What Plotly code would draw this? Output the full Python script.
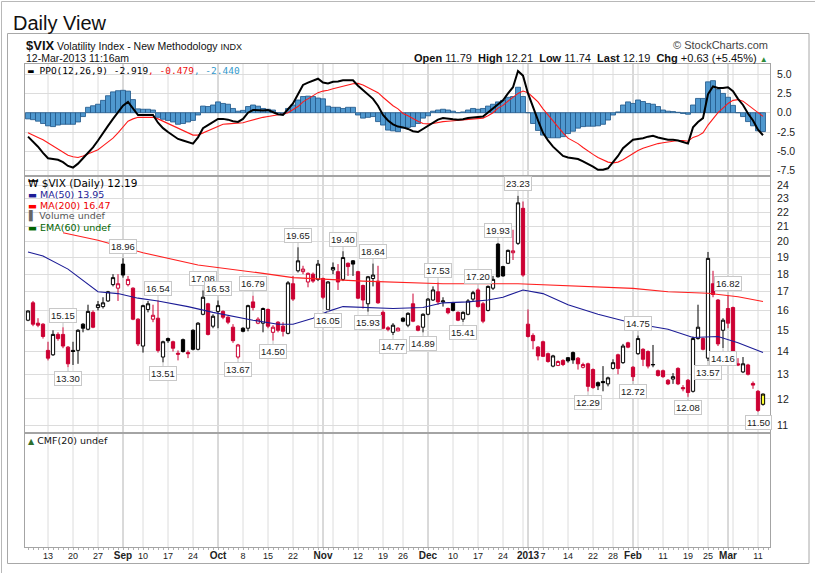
import math
import pandas as pd
import plotly.graph_objects as go

# ---------------- data ----------------
holidays = ["2012-09-03", "2012-10-29", "2012-10-30", "2012-11-22",
            "2012-12-25", "2013-01-01", "2013-01-21", "2013-02-18"]
dates = pd.bdate_range("2012-08-07", "2013-03-12", freq="C", holidays=holidays)

opens = [15.5, 16.4, 15.35, 15.3, 14.05, 13.85, 14.8, 14.8, 14.2, 14.05,
         14.05, 15.3, 15.05, 15.9, 16.15, 16.2, 16.5, 17.4, 17.2, 18.6,
         17.4, 17.2, 15.55, 14.25, 16.05, 15.55, 15.6, 13.75, 14.6, 14.45,
         13.92, 14.55, 13.95, 15.0, 14.1, 15.8, 16.35, 15.2, 15.95, 15.95,
         15.65, 15.15, 13.75, 15.1, 15.1, 16.45, 15.35, 15.35, 16.05, 14.9,
         15.4, 15.2, 14.85, 17.45, 18.2, 18.15, 17.55, 18.0, 17.7, 17.75,
         16.05, 18.25, 18.15, 17.7, 18.65, 18.8, 18.15, 17.35, 16.35, 17.75,
         17.6, 15.9, 15.12, 14.9, 14.97, 15.6, 15.25, 16.35, 15.2, 15.15,
         15.8, 16.55, 17.0, 16.45, 16.1, 16.4, 15.9, 15.55, 15.8, 16.6,
         17.1, 16.35, 16.0, 17.2, 19.85, 18.45, 18.65, 19.3, 19.9, 22.3,
         15.3, 14.75, 14.2, 14.45, 13.9, 13.35, 13.38, 13.6, 13.72, 13.95,
         13.7, 13.3, 13.45, 13.2, 12.65, 12.7, 12.6, 13.25, 13.85, 13.5,
         14.4, 13.3, 13.9, 14.1, 14.0, 13.4, 13.15, 13.15, 12.75, 12.8,
         13.25, 12.45, 12.75, 12.3, 14.6, 14.6, 13.7, 17.45, 16.55, 15.0,
         16.1, 16.15, 13.45, 13.1, 13.4, 12.62, 12.3, 11.79]
highs = [16.0, 16.5, 15.6, 15.35, 14.45, 15.0, 14.9, 15.15, 14.25, 14.45,
         15.05, 15.35, 16.3, 16.0, 16.5, 16.7, 17.05, 18.0, 18.0, 18.96,
         17.9, 17.25, 15.6, 16.3, 16.5, 16.3, 16.54, 14.5, 14.65, 14.5,
         14.05, 14.6, 14.05, 15.05, 15.4, 17.08, 16.4, 15.8, 16.53, 16.0,
         15.7, 15.3, 14.35, 15.15, 16.3, 16.79, 15.65, 16.15, 16.1, 15.25,
         15.45, 15.4, 17.6, 17.9, 19.65, 18.5, 18.1, 18.1, 18.85, 17.8,
         17.6, 18.7, 18.6, 19.4, 18.7, 18.85, 18.2, 17.4, 17.9, 18.64,
         18.5, 16.0, 15.2, 15.35, 15.15, 15.65, 15.9, 16.9, 15.25, 15.85,
         16.65, 17.3, 17.53, 16.7, 16.15, 16.45, 15.95, 15.95, 16.6, 17.05,
         17.2, 16.45, 17.35, 17.9, 19.93, 18.5, 19.5, 20.8, 23.23, 22.8,
         16.05, 14.85, 14.25, 14.5, 13.95, 13.85, 13.6, 13.65, 13.75, 14.0,
         13.75, 13.5, 13.5, 13.25, 12.7, 13.35, 12.9, 13.65, 13.9, 14.35,
         14.45, 13.35, 14.75, 14.15, 14.05, 14.3, 13.2, 13.2, 12.8, 13.05,
         13.3, 12.55, 12.8, 14.7, 16.3, 14.65, 19.35, 18.2, 16.6, 15.6,
         16.82, 16.2, 13.7, 13.75, 13.45, 12.7, 12.35, 12.21]
lows = [15.45, 15.2, 15.15, 14.6, 13.6, 13.8, 14.5, 14.15, 13.3, 13.4,
        13.45, 14.9, 15.0, 15.1, 16.0, 16.1, 16.45, 17.3, 16.5, 17.8,
        17.3, 15.5, 14.25, 13.95, 15.9, 15.4, 13.95, 13.51, 14.4, 14.0,
        13.6, 13.95, 13.7, 14.05, 14.05, 15.75, 14.75, 15.1, 15.1, 15.55,
        15.3, 14.4, 13.67, 14.9, 14.95, 16.0, 15.3, 14.9, 15.1, 14.5,
        14.9, 14.7, 14.8, 16.5, 18.1, 18.0, 17.25, 17.5, 17.6, 16.6,
        16.05, 18.0, 17.1, 17.6, 17.9, 17.9, 16.6, 16.1, 15.93, 17.3,
        16.35, 15.05, 14.95, 14.77, 14.95, 15.4, 15.15, 15.4, 14.95, 14.89,
        15.75, 16.5, 16.3, 16.2, 15.8, 15.95, 15.45, 15.41, 15.75, 16.5,
        16.15, 15.35, 15.95, 17.1, 17.8, 17.85, 18.6, 18.85, 19.8, 17.85,
        14.65, 14.1, 13.6, 13.75, 13.5, 13.3, 13.35, 13.35, 13.5, 13.45,
        13.2, 13.25, 12.29, 12.4, 12.35, 12.3, 12.5, 13.2, 13.0, 13.45,
        14.15, 12.72, 13.85, 13.35, 13.25, 13.3, 12.9, 12.85, 12.55, 12.6,
        12.55, 12.3, 12.08, 12.25, 14.55, 14.05, 13.57, 16.7, 14.25, 14.16,
        15.1, 13.9, 13.35, 13.05, 12.95, 12.4, 11.5, 11.74]
closes = [15.97, 15.3, 15.25, 14.7, 13.7, 14.8, 14.6, 14.25, 13.45, 14.0,
          15.0, 15.1, 15.95, 15.15, 16.3, 16.4, 17.0, 17.8, 17.45, 17.95,
          17.7, 15.55, 14.35, 16.25, 16.35, 15.75, 14.05, 14.45, 14.5, 14.15,
          13.88, 14.0, 13.9, 14.1, 15.35, 16.7, 14.8, 15.7, 16.25, 15.65,
          15.4, 14.5, 14.3, 14.95, 16.25, 16.15, 15.55, 16.1, 15.2, 15.15,
          15.0, 14.95, 17.5, 16.6, 18.8, 18.3, 18.05, 17.6, 18.6, 16.7,
          17.55, 18.4, 17.55, 19.0, 18.45, 18.6, 16.65, 16.55, 17.85, 17.95,
          16.4, 15.1, 15.05, 15.25, 15.1, 15.45, 15.85, 15.45, 15.0, 15.8,
          16.6, 17.1, 16.45, 16.5, 15.88, 16.0, 15.5, 15.9, 16.5, 16.95,
          16.2, 15.45, 17.3, 17.7, 17.85, 17.9, 19.45, 19.42, 22.7, 17.95,
          14.7, 14.5, 13.8, 13.78, 13.55, 13.8, 13.55, 13.42, 13.58, 13.62,
          13.45, 13.42, 12.5, 12.45, 12.52, 12.65, 12.85, 13.5, 13.25, 14.25,
          14.2, 12.9, 14.6, 13.65, 13.35, 13.42, 12.95, 12.9, 12.6, 12.9,
          12.6, 12.4, 12.25, 14.6, 15.15, 14.1, 18.95, 16.85, 14.35, 15.5,
          15.35, 13.95, 13.4, 13.45, 13.0, 12.55, 11.56, 12.19]

# moving averages (index, value)
ma50_idx = [0, 3, 8, 14, 18, 22, 26, 32, 37, 41, 45, 50, 53, 57, 60, 63, 68, 73,
            79, 83, 88, 92, 95, 99, 103, 108, 114, 118, 121, 128, 133, 138, 142, 147]
ma50_val = [19.35, 19.1, 18.3, 17.0, 16.9, 16.65, 16.5, 16.2, 15.9, 15.7, 15.5, 15.3,
            15.3, 15.6, 15.95, 16.2, 16.15, 16.1, 16.15, 16.4, 16.45, 16.55, 16.7,
            17.1, 16.9, 16.3, 15.8, 15.55, 15.35, 15.05, 14.65, 14.7, 14.4, 13.95]
ma200_idx = [7, 14, 23, 34, 47, 53, 67, 73, 83, 98, 108, 114, 121, 128, 136, 142, 147]
ma200_val = [20.6, 20.1, 19.3, 18.55, 18.05, 17.8, 17.6, 17.55, 17.45, 17.45,
             17.35, 17.3, 17.19, 17.0, 16.92, 16.73, 16.47]

# PPO(12,26,9)
ppo = [-3.1, -3.75, -4.4, -5.2, -5.9, -6.0, -6.1, -6.4, -6.9, -7.1,
       -6.6, -5.9, -5.2, -4.5, -3.6, -2.6, -1.7, -0.8, 0.0, 0.9,
       1.4, 0.6, -0.3, -0.3, -0.3, -0.3, -1.3, -2.0, -2.5, -3.0,
       -3.4, -3.6, -3.8, -4.0, -3.2, -2.0, -1.6, -1.2, -0.8, -0.8,
       -0.9, -1.1, -1.2, -0.8, 0.0, 0.35, 0.3, 0.3, 0.35, 0.1,
       -0.2, -0.3, 0.5, 1.2, 2.4, 3.6, 3.9, 4.2, 4.4, 3.9,
       3.8, 4.0, 4.05, 4.2, 4.2, 4.2, 3.5, 2.9, 2.4, 1.8,
       0.9, -0.3, -1.0, -1.5, -1.8, -1.9, -2.1, -2.4, -2.5, -2.1,
       -1.7, -1.3, -0.9, -0.7, -0.8, -0.85, -0.9, -0.85, -0.7, -0.6,
       -0.55, -0.5, 0.0, 0.6, 1.1, 1.6, 2.5, 3.3, 5.4, 4.8,
       2.5, 0.6, -1.0, -2.6, -3.6, -4.4, -5.0, -5.6, -5.8, -5.9,
       -6.0, -6.3, -6.6, -7.0, -7.4, -7.4, -7.2, -6.4, -5.6, -4.6,
       -4.0, -3.5, -3.4, -3.3, -3.1, -3.0, -3.2, -3.4, -3.5, -3.5,
       -3.6, -3.8, -4.0, -1.9, -1.2, -0.7, 2.4, 3.4, 3.2, 3.2,
       3.3, 2.8, 1.8, 1.0, -0.1, -1.0, -2.2, -2.92]
ppo_signal = [-2.6, -2.85, -3.2, -3.5, -3.9, -4.3, -4.7, -5.1, -5.5, -5.7,
              -5.8, -5.6, -5.35, -5.1, -4.8, -4.3, -3.8, -3.3, -2.6, -1.8,
              -1.1, -0.8, -0.6, -0.6, -0.6, -0.6, -0.8, -1.1, -1.4, -1.8,
              -2.1, -2.4, -2.7, -2.9, -2.9, -2.6, -2.4, -2.1, -1.8, -1.5,
              -1.45, -1.4, -1.35, -1.3, -1.1, -0.9, -0.75, -0.6, -0.5, -0.4,
              -0.3, -0.17, 0.0, 0.35, 0.8, 1.4, 1.8, 2.2, 2.6, 2.8,
              2.9, 3.1, 3.3, 3.45, 3.6, 3.75, 3.8, 3.6, 3.3, 3.0,
              2.6, 2.0, 1.45, 0.9, 0.5, -0.1, -0.4, -0.8, -1.1, -1.4,
              -1.45, -1.4, -1.25, -1.15, -1.1, -1.05, -1.0, -0.95, -0.9, -0.85,
              -0.8, -0.7, -0.4, 0.0, 0.6, 0.95, 1.5, 2.0, 2.5, 2.8,
              2.6, 2.0, 1.4, 0.5, -0.3, -1.0, -1.8, -2.6, -3.3, -3.6,
              -4.0, -4.5, -5.0, -5.4, -5.8, -6.1, -6.4, -6.5, -6.4, -6.1,
              -5.7, -5.2, -4.9, -4.6, -4.4, -4.2, -4.0, -3.9, -3.8, -3.7,
              -3.6, -3.6, -3.7, -3.2, -3.0, -2.6, -1.6, -0.8, 0.0, 0.6,
              1.2, 1.6, 1.7, 1.5, 1.0, 0.6, 0.1, -0.48]
ppo_hist = [-0.8, -0.9, -1.1, -1.4, -1.7, -1.8, -1.6, -1.5, -1.5, -1.5,
            -1.2, -0.5, 0.7, 0.9, 1.1, 1.6, 2.2, 2.7, 2.85, 2.9,
            2.8, 1.7, 0.5, 0.45, 0.45, 0.35, -0.6, -0.85, -1.0, -1.2,
            -1.5, -1.4, -1.2, -1.0, -0.3, 0.86, 0.8, 1.0, 1.4, 1.2,
            1.1, 0.55, 0.2, 0.3, 0.8, 1.0, 0.85, 0.55, 0.45, 0.35,
            0.0, -0.15, 0.55, 1.0, 1.65, 2.1, 2.15, 2.1, 1.9, 1.8,
            0.85, 0.7, 0.7, 0.55, 0.7, 0.7, -0.3, -0.7, -0.6, -0.5,
            -1.15, -1.6, -2.25, -2.35, -2.45, -2.0, -1.9, -1.8, -1.4, -0.7,
            -0.4, 0.2, 0.35, 0.45, 0.35, 0.2, 0.0, 0.1, 0.35, 0.55,
            0.45, 0.55, 0.86, 1.1, 1.4, 1.6, 2.0, 2.1, 3.3, 2.1,
            0.0, -1.4, -2.3, -2.9, -3.25, -3.25, -3.25, -3.1, -2.7, -2.4,
            -2.0, -1.8, -1.75, -1.75, -1.7, -1.5, -0.95, -0.3, 0.1, 1.0,
            1.4, 1.2, 1.65, 1.45, 1.2, 1.1, 0.8, 0.35, 0.2, 0.15,
            0.05, -0.1, -0.2, 1.0, 1.85, 1.85, 4.0, 4.15, 3.0, 2.5,
            2.0, 0.95, 0.0, -0.5, -1.15, -1.7, -2.35, -2.44]

# swing high / low labels (index, value, side)
peak_idx = [7, 8, 19, 26, 27, 35, 38, 42, 45, 49, 54, 60, 63, 68, 69, 73, 79, 82,
            87, 90, 94, 98, 112, 121, 122, 132, 136, 139, 140, 146]
peak_val = [15.15, 13.30, 18.96, 16.54, 13.51, 17.08, 16.53, 13.67, 16.79, 14.50,
            19.65, 16.05, 19.40, 15.93, 18.64, 14.77, 14.89, 17.53, 15.41, 17.20,
            19.93, 23.23, 12.29, 12.72, 14.75, 12.08, 13.57, 14.16, 16.82, 11.50]
peak_side = ["h", "l", "h", "h", "l", "h", "h", "l", "h", "l",
             "h", "l", "h", "l", "h", "l", "l", "h", "l", "h",
             "h", "h", "l", "l", "h", "l", "l", "l", "h", "l"]

tick_dates = ["2012-08-13", "2012-08-20", "2012-08-27", "2012-09-04", "2012-09-10",
              "2012-09-17", "2012-09-24", "2012-10-01", "2012-10-08", "2012-10-15",
              "2012-10-22", "2012-11-01", "2012-11-12", "2012-11-19", "2012-11-26",
              "2012-12-03", "2012-12-10", "2012-12-17", "2012-12-24", "2013-01-02",
              "2013-01-07", "2013-01-14", "2013-01-22", "2013-01-28", "2013-02-01",
              "2013-02-11", "2013-02-19", "2013-02-25", "2013-03-01", "2013-03-11"]
tick_labels = ["13", "20", "27", "Sep", "10", "17", "24", "Oct", "8", "15", "22",
               "Nov", "12", "19", "26", "Dec", "10", "17", "24", "2013", "7", "14",
               "22", "28", "Feb", "11", "19", "25", "Mar", "11"]
price_ticks = [11, 12, 13, 14, 15, 16, 17, 18, 19, 20, 21, 22, 23, 24]
ppo_ticks = [-7.5, -5.0, -2.5, 0.0, 2.5, 5.0]

symbol = "$VIX"
sym_name = "Volatility Index - New Methodology"
exchange = "INDX"
stamp = "12-Mar-2013 11:16am"
q_open, q_high, q_low, q_last, q_chg, q_pct = 11.79, 12.21, 11.74, 12.19, 0.63, 5.45
ma50_last, ma200_last = 13.95, 16.47
ppo_last = (-2.919, -0.479, -2.440)

# ---------------- styling ----------------
RED = "#cc0033"
NAVY = "#1c1c96"
FRAME = "#a4a4a4"
GRID = "#dcdcdc"
MGRID = "#b4b4b4"
FONT = "Liberation Sans, Arial, Helvetica, sans-serif"
LFONT = "DejaVu Sans, Verdana, sans-serif"
MONO = "DejaVu Sans Mono, monospace"

n = len(closes)
xs = list(range(n))
XR = [-0.6, n + 0.4]
D_CMF = [0.0, 0.2360]
D_MAIN = [0.2360, 0.7681]
D_PPO = [0.7681, 1.0]


def px2x(px):
    return (px - 25) / 745.0


def py2y(py):
    return (547 - py) / 483.0


fig = go.Figure()

# PPO histogram + lines
fig.add_trace(go.Bar(x=xs, y=ppo_hist, width=1.0, xaxis="x", yaxis="y",
                     marker=dict(color="#4f98cf", line=dict(color="#1f5588", width=0.8)),
                     showlegend=False))
fig.add_trace(go.Scatter(x=xs, y=ppo_signal, mode="lines", xaxis="x", yaxis="y",
                         line=dict(color="#ff1a1a", width=1.1), showlegend=False))
fig.add_trace(go.Scatter(x=xs, y=ppo, mode="lines", xaxis="x", yaxis="y",
                         line=dict(color="#000000", width=2), showlegend=False))

# moving averages
fig.add_trace(go.Scatter(x=ma200_idx, y=ma200_val, mode="lines", xaxis="x2", yaxis="y2",
                         line=dict(color="#ff2020", width=1.1), showlegend=False))
fig.add_trace(go.Scatter(x=ma50_idx, y=ma50_val, mode="lines", xaxis="x2", yaxis="y2",
                         line=dict(color=NAVY, width=1.1), showlegend=False))

# candles split by StockCharts colouring
groups = {"up_hollow": [], "dn_hollow": [], "up_filled": [], "dn_filled": [], "last": []}
for i in range(n):
    if i == n - 1:
        groups["last"].append(i)
        continue
    prev = closes[i - 1] if i > 0 else opens[i]
    hollow = closes[i] >= opens[i]
    up = closes[i] >= prev
    groups[("up" if up else "dn") + ("_hollow" if hollow else "_filled")].append(i)
styles = {"up_hollow": ("#000000", "#ffffff"), "dn_hollow": (RED, "#ffffff"),
          "up_filled": ("#000000", "#000000"), "dn_filled": (RED, RED),
          "last": ("#000000", "#ffff33")}
for key, idx in groups.items():
    if not idx:
        continue
    lc, fc = styles[key]
    side = dict(line=dict(color=lc, width=1), fillcolor=fc)
    fig.add_trace(go.Candlestick(
        x=idx, open=[opens[i] for i in idx], high=[highs[i] for i in idx],
        low=[lows[i] for i in idx], close=[closes[i] for i in idx],
        xaxis="x2", yaxis="y2", increasing=side, decreasing=side,
        whiskerwidth=0, showlegend=False))

# empty CMF panel placeholder
fig.add_trace(go.Scatter(x=[None], y=[None], xaxis="x3", yaxis="y3", showlegend=False))

# ---------------- grid shapes ----------------
iso_week = [d.isocalendar()[1] for d in dates]
week_starts = [i for i in range(1, len(dates)) if iso_week[i] != iso_week[i - 1]]
month_starts = [i for i in range(1, len(dates)) if dates[i].month != dates[i - 1].month]
shapes = []
for i in week_starts:
    if i in month_starts:
        continue
    shapes.append(dict(type="line", xref="x", yref="paper", x0=i, x1=i, y0=0, y1=1,
                       line=dict(color=GRID, width=1), layer="below"))
for i in month_starts:
    shapes.append(dict(type="line", xref="x", yref="paper", x0=i, x1=i, y0=0, y1=1,
                       line=dict(color=MGRID, width=1), layer="below"))
# frames
shapes.append(dict(type="rect", xref="paper", yref="paper",
                   x0=px2x(7.5), x1=px2x(809), y0=py2y(563.5), y1=py2y(33.5),
                   line=dict(color="#a8a8a8", width=1), layer="below"))
shapes.append(dict(type="line", xref="paper", yref="paper",
                   x0=px2x(1.5), x1=px2x(815), y0=py2y(1.5), y1=py2y(1.5),
                   line=dict(color="#b8b8b8", width=1)))
shapes.append(dict(type="line", xref="paper", yref="paper",
                   x0=px2x(1.5), x1=px2x(1.5), y0=py2y(1.5), y1=py2y(573),
                   line=dict(color="#b8b8b8", width=1)))

# ---------------- annotations ----------------
ann = []
for i, v, s in zip(peak_idx, peak_val, peak_side):
    ann.append(dict(x=i, y=math.log10(v), xref="x2", yref="y2", text=f"{v:.2f}",
                    showarrow=True, arrowhead=0, arrowwidth=1, arrowcolor="#c4c4c4",
                    ax=0, ay=(-12 if s == "h" else 11), standoff=0,
                    font=dict(family=FONT, size=9.5, color="#1a1a1a"),
                    bgcolor="#ffffff", bordercolor="#c8c8c8", borderwidth=1, borderpad=1))

ann.append(dict(x=px2x(11), y=py2y(23), xref="paper", yref="paper", xanchor="left",
                yanchor="middle", showarrow=False, text="Daily View",
                font=dict(family=FONT, size=20, color="#111111")))
ann.append(dict(x=px2x(24), y=py2y(45), xref="paper", yref="paper", xanchor="left",
                yanchor="middle", showarrow=False,
                text=(f"<span style='font-size:13px'><b>{symbol}</b></span> {sym_name} "
                      f"<span style='font-size:9px'>{exchange}</span>"),
                font=dict(family=FONT, size=10.5, color="#111111")))
ann.append(dict(x=px2x(24), y=py2y(58), xref="paper", yref="paper", xanchor="left",
                yanchor="middle", showarrow=False, text=stamp,
                font=dict(family=FONT, size=10.5, color="#111111")))
ann.append(dict(x=1.0, y=py2y(45), xref="paper", yref="paper", xanchor="right",
                yanchor="middle", showarrow=False, text="\u00a9 StockCharts.com",
                font=dict(family=FONT, size=11, color="#444444")))
S = "\u00a0\u00a0"
ann.append(dict(x=1.0, y=py2y(58), xref="paper", yref="paper", xanchor="right",
                yanchor="middle", showarrow=False,
                text=(f"<b>Open</b> {q_open:.2f}{S}<b>High</b> {q_high:.2f}{S}"
                      f"<b>Low</b> {q_low:.2f}{S}<b>Last</b> {q_last:.2f}{S}"
                      f"<b>Chg</b> {q_chg:+.2f} ({q_pct:+.2f}%) "
                      f"<span style='color:#2e8b3a;font-size:8px'>\u25b2</span>"),
                font=dict(family=FONT, size=11, color="#111111")))

# panel legends
ann.append(dict(x=px2x(26), y=py2y(71), xref="paper", yref="paper", xanchor="left",
                yanchor="middle", showarrow=False,
                text=(f"\u25ac PPO(12,26,9) {ppo_last[0]:.3f}"
                      f"<span style='color:#ee1111'>, {ppo_last[1]:.3f}</span>"
                      f"<span style='color:#3399cc'>, {ppo_last[2]:.3f}</span>"),
                font=dict(family=MONO, size=9.5, color="#000000")))
legend_lines = [
    ("\u20a9", "#000000", f"{symbol} (Daily) {q_last:.2f}", "#000000", 183, 10.5),
    ("\u25ac", NAVY, f"MA(50) {ma50_last:.2f}", NAVY, 194, 9.5),
    ("\u25ac", "#ff0000", f"MA(200) {ma200_last:.2f}", "#ee0000", 205, 9.5),
    ("\u258c", "#666666", "Volume undef", "#555555", 216, 9.5),
    ("\u25ac", "#006400", "EMA(60) undef", "#006400", 227, 9.5),
]
for icon, ic, txt, tc, ypx, fs in legend_lines:
    ann.append(dict(x=px2x(26), y=py2y(ypx), xref="paper", yref="paper", xanchor="left",
                    yanchor="middle", showarrow=False,
                    text=f"<span style='color:{ic}'>{icon}</span><span style='color:{tc}'> {txt}</span>",
                    font=dict(family=LFONT, size=fs, color=tc)))
ann.append(dict(x=px2x(26), y=py2y(440), xref="paper", yref="paper", xanchor="left",
                yanchor="middle", showarrow=False,
                text="<span style='color:#2f6f2f;font-size:8px'>\u25b2</span> CMF(20) undef",
                font=dict(family=LFONT, size=9.5, color="#111111")))

# ---------------- layout ----------------
tick_idx = [dates.get_loc(pd.Timestamp(d)) for d in tick_dates]
tick_text = [f"<span style='font-size:10px'><b>{t}</b></span>"
             if (not t.isdigit() or t == "2013") else t for t in tick_labels]

common_x = dict(range=XR, showgrid=False, zeroline=False, showline=True, mirror=True,
                linecolor=FRAME, linewidth=1, rangeslider=dict(visible=False),
                fixedrange=True)
fig.update_layout(
    width=815, height=573,
    margin=dict(l=25, r=45, t=64, b=26, autoexpand=False),
    paper_bgcolor="#ffffff", plot_bgcolor="rgba(0,0,0,0)",
    showlegend=False, boxgap=0.35, boxgroupgap=0, bargap=0,
    shapes=shapes, annotations=ann,
    xaxis=dict(domain=[0, 1], anchor="y", showticklabels=False, ticks="", **common_x),
    xaxis2=dict(domain=[0, 1], anchor="y2", showticklabels=False, ticks="", **common_x),
    xaxis3=dict(domain=[0, 1], anchor="y3", tickmode="array", tickvals=tick_idx,
                ticktext=tick_text, ticks="",
                tickangle=0, tickfont=dict(family=FONT, size=9, color="#222222"),
                minor=dict(tickmode="linear", tick0=0, dtick=1, ticks="outside",
                           ticklen=2, tickcolor="#b0b0b0", showgrid=False),
                automargin=False, **common_x),
    yaxis=dict(domain=D_PPO, anchor="x", range=[-8.2, 6.31], side="right",
               tickmode="array", tickvals=ppo_ticks, ticktext=[f"{v:.1f}" for v in ppo_ticks],
               showgrid=True, gridcolor=GRID, zeroline=False, showline=True, mirror=True,
               linecolor=FRAME, ticks="outside", ticklen=4, tickcolor="rgba(0,0,0,0)",
               tickfont=dict(family=FONT, size=10.5, color="#222222"),
               automargin=False, fixedrange=True),
    yaxis2=dict(domain=D_MAIN, anchor="x2", type="log",
                range=[math.log10(10.74), math.log10(24.77)], side="right",
                tickmode="array", tickvals=price_ticks, ticktext=[str(v) for v in price_ticks],
                showgrid=True, gridcolor=GRID, zeroline=False, showline=True, mirror=True,
                linecolor=FRAME, ticks="outside", ticklen=4, tickcolor="rgba(0,0,0,0)",
                tickfont=dict(family=FONT, size=10.5, color="#222222"),
                automargin=False, fixedrange=True),
    yaxis3=dict(domain=D_CMF, anchor="x3", range=[0, 1], showticklabels=False,
                showgrid=False, zeroline=False, showline=True, mirror=True,
                linecolor=FRAME, ticks="", automargin=False, fixedrange=True),
)

fig.write_html("out.html", config={"displayModeBar": False, "staticPlot": True},
               post_script="document.body.style.margin='0';document.body.style.overflow='hidden';")
